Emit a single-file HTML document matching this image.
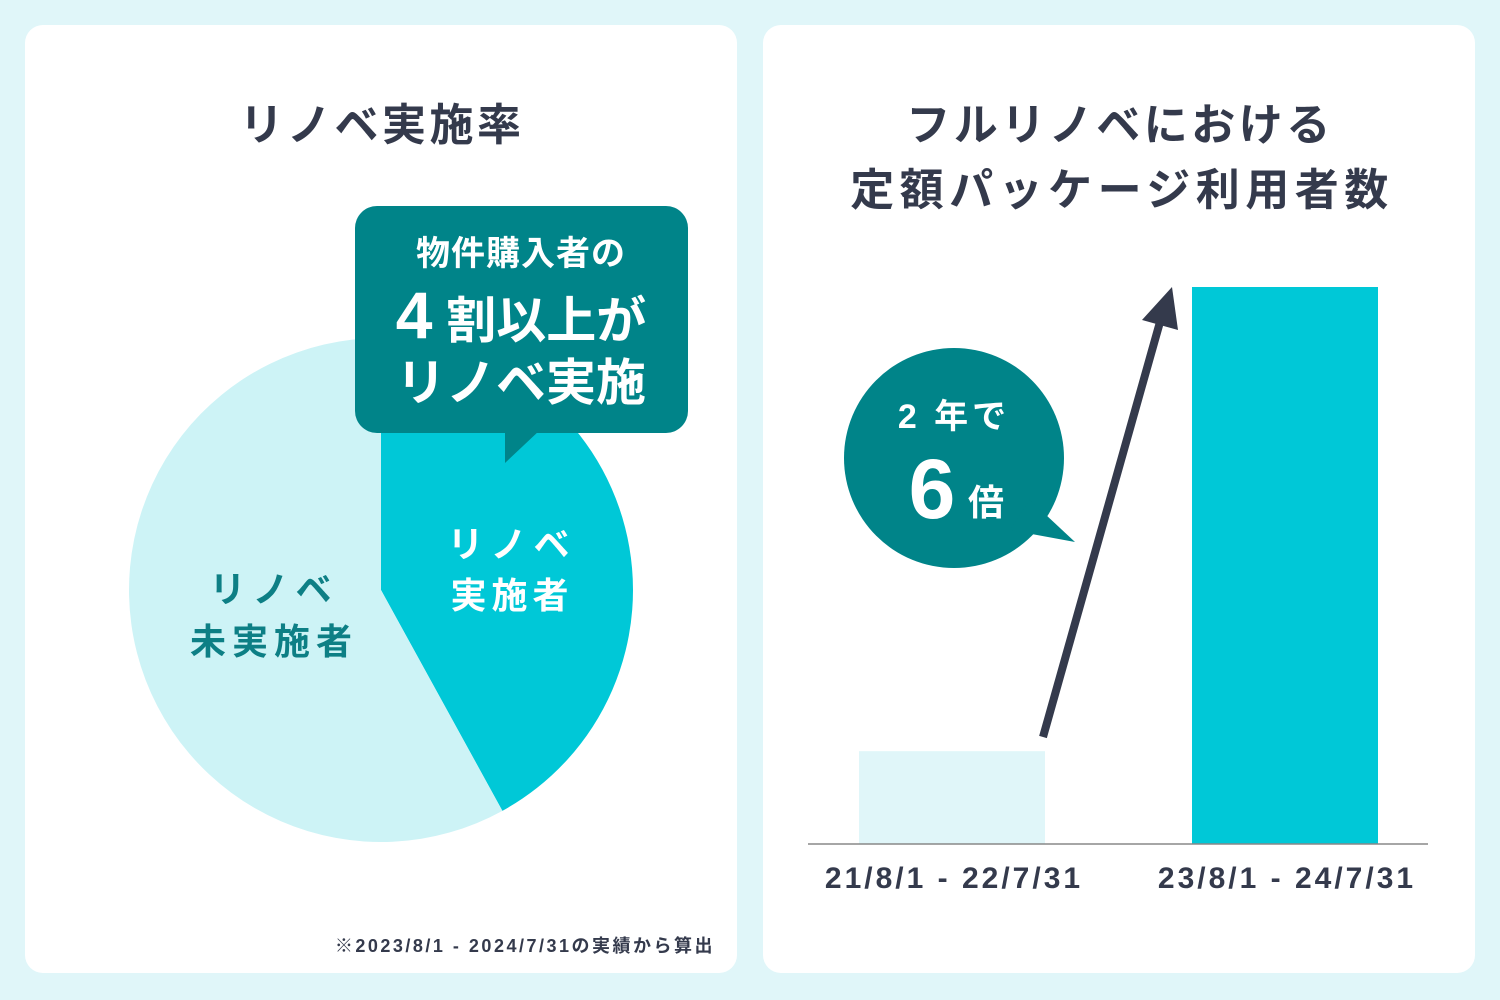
<!DOCTYPE html>
<html><head><meta charset="utf-8"><style>
html,body{margin:0;padding:0}
body{width:1500px;height:1000px;background:#e0f6f9;position:relative;overflow:hidden;font-family:"Liberation Sans","Noto Sans CJK JP",sans-serif;color:#343a4c}
.panel{position:absolute;top:25px;width:712px;height:948px;background:#fff;border-radius:18px}
</style></head><body>
<div class="panel" style="left:25px"></div>
<div class="panel" style="left:763px"></div>
<svg width="1500" height="1000" style="position:absolute;left:0;top:0">
<g id="pie"></g>
<g id="bars"></g>
<text x="382" y="140" text-anchor="middle" font-size="44" font-weight="bold" fill="#343a4c" letter-spacing="3.5">リノベ実施率</text>
<text x="1120" y="140" text-anchor="middle" font-size="44" font-weight="bold" fill="#343a4c" letter-spacing="3.5">フルリノベにおける</text>
<text x="1122" y="205" text-anchor="middle" font-size="44" font-weight="bold" fill="#343a4c" letter-spacing="5.5">定額パッケージ利用者数</text>
<g>
<rect x="355" y="206" width="333" height="227" rx="22" fill="#008489"/>
<polygon points="505,430 540,430 505,463" fill="#008489"/>
<text x="521" y="265" text-anchor="middle" font-size="34" font-weight="bold" fill="#fff" letter-spacing="1">物件購入者の</text>
<text x="521" y="338" text-anchor="middle" font-size="50" font-weight="bold" fill="#fff"><tspan font-size="66">4</tspan> 割以上が</text>
<text x="521" y="400" text-anchor="middle" font-size="50" font-weight="bold" fill="#fff">リノベ実施</text>
</g>
<text x="512" y="557" text-anchor="middle" font-size="36" font-weight="bold" fill="#fff" letter-spacing="7">リノベ</text>
<text x="512" y="608" text-anchor="middle" font-size="36" font-weight="bold" fill="#fff" letter-spacing="5">実施者</text>
<text x="274" y="602" text-anchor="middle" font-size="36" font-weight="bold" fill="#0d7f85" letter-spacing="7">リノベ</text>
<text x="274" y="654" text-anchor="middle" font-size="36" font-weight="bold" fill="#0d7f85" letter-spacing="6">未実施者</text>
<text x="715" y="952" text-anchor="end" font-size="18" font-weight="bold" fill="#343a4c" letter-spacing="2.5">※2023/8/1 - 2024/7/31の実績から算出</text>
<g>
<line x1="1043" y1="737" x2="1160" y2="322" stroke="#343a4c" stroke-width="8"/>
<polygon points="1172,287 1178,330 1142,320" fill="#343a4c"/>
</g>
<g>
<circle cx="954" cy="458" r="110" fill="#008489"/>
<polygon points="1030,500 1075,542 1010,530" fill="#008489"/>
<text x="954" y="428" text-anchor="middle" font-size="34" font-weight="bold" fill="#fff" letter-spacing="4">2 年で</text>
<text x="932" y="518" text-anchor="middle" font-size="84" font-weight="bold" fill="#fff">6</text>
<text x="986" y="515" text-anchor="middle" font-size="36" font-weight="bold" fill="#fff">倍</text>
</g>
</svg>
<script>
const pieLabels=["リノベ実施者","リノベ未実施者"];
const pieValues=[42,58];
const barCategories=["21/8/1 - 22/7/31","23/8/1 - 24/7/31"];
const barValues=[1,6];
const NS="http://www.w3.org/2000/svg";
const pieColors=["#00c8d7","#cdf3f6"];
(function(){
 const g=document.getElementById('pie');const cx=381,cy=590,r=252;
 const tot=pieValues.reduce((a,b)=>a+b,0);let a0=0;
 pieValues.forEach((v,i)=>{const a1=a0+v/tot*2*Math.PI;
  const p=(a)=>[cx+r*Math.sin(a),cy-r*Math.cos(a)];
  const [x0,y0]=p(a0),[x1,y1]=p(a1);
  const el=document.createElementNS(NS,'path');
  el.setAttribute('d',`M${cx},${cy}L${x0},${y0}A${r},${r} 0 ${a1-a0>Math.PI?1:0} 1 ${x1},${y1}Z`);
  el.setAttribute('fill',pieColors[i]);
  
  
  g.appendChild(el);a0=a1;});
 const b=document.getElementById('bars');const base=844,top=287,maxV=Math.max(...barValues);
 const y=v=>base-(v/maxV)*(base-top);
 const xs=[859,1192],w=186,cols=["#e0f6f9","#00c8d7"];
 barValues.forEach((v,i)=>{const r=document.createElementNS(NS,'rect');
  r.setAttribute('x',xs[i]);r.setAttribute('y',y(v));r.setAttribute('width',w);r.setAttribute('height',base-y(v));r.setAttribute('fill',cols[i]);
  
  
  b.appendChild(r);
  const t=document.createElementNS(NS,'text');
  t.setAttribute('x',xs[i]+w/2+2);t.setAttribute('y',888);t.setAttribute('text-anchor','middle');t.setAttribute('font-size','30');t.setAttribute('font-weight','bold');t.setAttribute('fill','#343a4c');t.setAttribute('letter-spacing','3');
  t.textContent=barCategories[i];
  
  
  b.appendChild(t);});
 const l=document.createElementNS(NS,'line');
 l.setAttribute('x1',808);l.setAttribute('x2',1428);l.setAttribute('y1',base);l.setAttribute('y2',base);l.setAttribute('stroke','#888');l.setAttribute('stroke-width','1.5');
 
 
 b.appendChild(l);
})();
</script>
</body></html>
